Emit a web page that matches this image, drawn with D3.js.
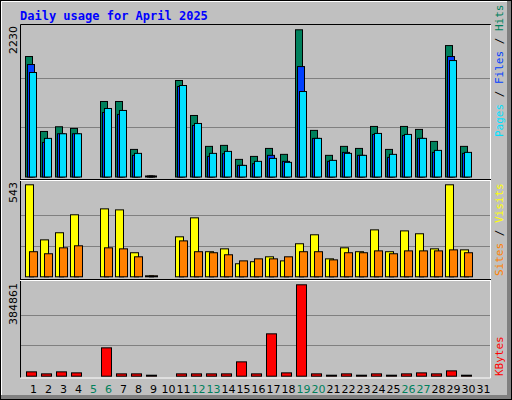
<!DOCTYPE html>
<html><head><meta charset="utf-8">
<script src="https://cdn.jsdelivr.net/npm/d3@7"></script>
<style>body{margin:0;background:#fff}svg{display:block}</style></head>
<body><svg id="c" width="512" height="400"></svg>
<script>
const days=d3.range(1,32);
const weekends=[5,6,12,13,19,20,26,27];
const hits=[1825,690,761,736,0,1144,1144,418,4,0,1462,932,464,479,267,312,433,343,2230,706,328,464,433,766,418,766,721,539,1991,464,0];
const files=[1704,524,655,655,0,978,948,328,2,0,1371,781,312,353,176,202,328,237,1673,585,237,373,328,645,297,630,585,373,1825,358,0];
const pages=[1583,585,655,655,0,1038,1008,358,2,0,1386,811,358,388,176,237,282,222,1295,585,252,358,328,660,343,645,585,403,1764,373,0];
const visits=[543,218,260,366,0,401,395,142,2,0,236,348,148,165,77,89,118,94,195,248,106,171,148,277,148,271,254,165,543,159,0];
const sites=[148,136,171,183,0,171,165,118,2,0,212,148,142,130,94,106,106,118,148,148,100,142,142,153,136,153,153,153,159,142,0];
const kbytes=[18260,9830,18260,14050,0,119390,9830,9830,3000,0,9830,9830,9830,9830,60400,9830,178380,14050,384861,9830,3000,9830,3000,9830,3000,9830,14050,9830,22470,3000,0];
const maxTop=2230,maxMid=543,maxBot=384861;

const svg=d3.select("#c");
svg.append("rect").attr("x",0.5).attr("y",0.5).attr("width",511).attr("height",399).attr("fill","#c0c0c0").attr("stroke","#000");
svg.append("path").attr("d","M1.5,398.5V1.5H510.5").attr("stroke","#fff").attr("fill","none");
svg.append("rect").attr("x",507).attr("y",1).attr("width",4).attr("height",398).attr("fill","#808080");
svg.append("rect").attr("x",1).attr("y",395).attr("width",510).attr("height",4).attr("fill","#808080");
svg.append("text").attr("x",20).attr("y",20).text("Daily usage for April 2025")
 .attr("font-family","DejaVu Sans Mono").attr("font-weight","bold").attr("font-size",12).attr("fill","#0000ff");

// frame
svg.append("path").attr("d","M20.5,378V24.5H490.5V378").attr("stroke","#000").attr("fill","none");
svg.append("path").attr("d","M490.5,25V378H20").attr("stroke","#fff").attr("fill","none");
svg.append("line").attr("x1",20).attr("x2",491).attr("y1",179.5).attr("y2",179.5).attr("stroke","#000");
svg.append("line").attr("x1",20).attr("x2",491).attr("y1",180.5).attr("y2",180.5).attr("stroke","#fff");
svg.append("line").attr("x1",20).attr("x2",491).attr("y1",279.5).attr("y2",279.5).attr("stroke","#000");
svg.append("line").attr("x1",20).attr("x2",491).attr("y1",280.5).attr("y2",280.5).attr("stroke","#fff");

const x=d3.scaleBand().domain(days).range([25,490]).paddingInner(0).paddingOuter(0);
x.range([25,25+15*31]);
const yT=d3.scaleLinear().domain([0,maxTop]).range([176.5,29.3]);
const yM=d3.scaleLinear().domain([0,maxMid]).range([276.3,184.3]);
const yB=d3.scaleLinear().domain([0,maxBot]).range([375.7,284.3]);

function grid(y,max){
  [1/3,2/3].forEach(f=>{const yy=Math.round(y(0)-(y(0)-y(max))*f*1.0)+0.5;
  svg.append("line").attr("x1",21).attr("x2",490).attr("y1",yy).attr("y2",yy).attr("stroke","#808080");});
}
[[yT,maxTop],[yM,maxMid],[yB,maxBot]].forEach(a=>grid(a[0],a[1]));

function bars(data,y,off,w,color){
  svg.append("g").selectAll("rect").data(data.map((v,i)=>({v,d:days[i]})).filter(o=>o.v>0)).join("rect")
   .attr("x",o=>x(o.d)+off+0.5).attr("width",w)
   .attr("y",o=>Math.min(y(o.v),y(0)-1)+0.5).attr("height",o=>Math.max(1,y(0)-y(o.v)))
   .attr("fill",color).attr("stroke","#000");
}
bars(hits,yT,0,7,"#00805c");
bars(files,yT,2,7,"#0040ff");
bars(pages,yT,4,7,"#00e0ff");
bars(visits,yM,0,8,"#ffff00");
bars(sites,yM,4,8,"#ff8000");
bars(kbytes,yB,1,10,"#ff0000");

svg.append("g").selectAll("text").data(days).join("text")
 .attr("x",d=>x(d)+8.5).attr("y",393).attr("text-anchor","middle")
 .attr("font-family","DejaVu Sans").attr("font-size",11)
 .attr("fill",d=>weekends.includes(d)?"#00805c":"#000").text(d=>d);

function leftLabel(t,y){
  svg.append("text").attr("transform",`translate(17,${y}) rotate(-90)`).attr("text-anchor","end")
   .attr("font-family","DejaVu Sans").attr("font-size",11).text(t);
}
leftLabel(maxTop,26);leftLabel(maxMid,182);leftLabel(maxBot,283);

function rightLabel(parts,y){
  const t=svg.append("text").attr("transform",`translate(503,${y}) rotate(-90)`)
   .attr("font-family","DejaVu Sans Mono").attr("font-size",11);
  parts.forEach(p=>t.append("tspan").attr("fill",p[1]).text(p[0]));
}
rightLabel([["Pages","#00e0ff"],[" / ","#000"],["Files","#0040ff"],[" / ","#000"],["Hits","#00805c"]],137);
rightLabel([["Sites","#ff8000"],[" / ","#000"],["Visits","#ffff00"]],276);
rightLabel([["KBytes","#ff0000"]],376);
</script></body></html>
